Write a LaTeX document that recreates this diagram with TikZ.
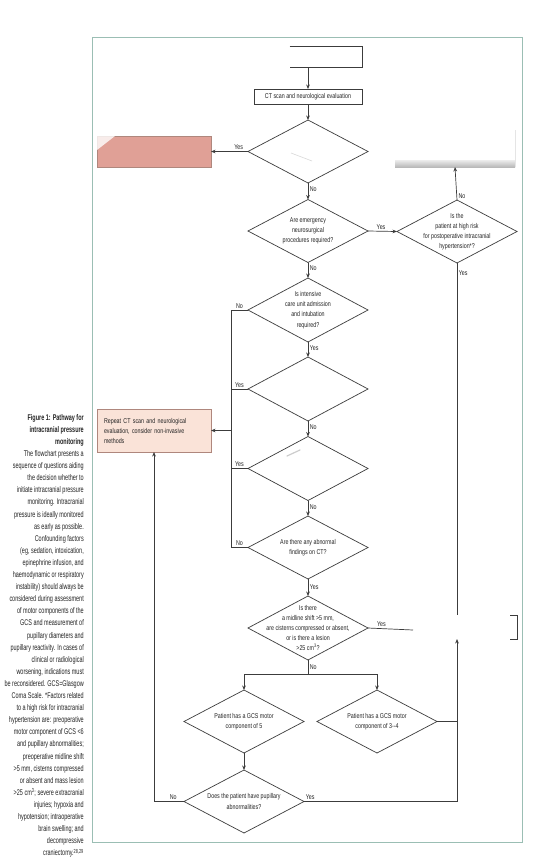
\documentclass[tikz,border=0pt]{standalone}
\usepackage{fontspec}
\setmainfont{Liberation Sans}
\newfontfamily\diaf[FakeStretch=0.76]{Liberation Sans}
\newfontfamily\capf[FakeStretch=0.66]{Liberation Sans}
\usetikzlibrary{shapes.geometric,arrows.meta,calc}
\definecolor{ln}{RGB}{60,60,60}
\definecolor{framec}{RGB}{155,190,180}
\definecolor{txt}{RGB}{35,35,35}
\definecolor{pinkA}{RGB}{224,160,150}
\definecolor{pinkB}{RGB}{250,227,216}
\definecolor{pinkE}{RGB}{175,135,125}
\begin{document}
\begin{tikzpicture}[x=1pt,y=-1pt,
  line/.style={draw=ln,line width=0.7pt},
  arr/.style={line,-{Stealth[length=4.5pt,width=3.6pt]}},
  dia/.style={diamond,draw=ln,line width=0.7pt,inner sep=0pt,outer sep=0pt,minimum width=120pt,minimum height=63pt},
  dtext/.style={font=\diaf\fontsize{7}{10.2}\selectfont,text=txt,align=center,inner sep=0pt},
  box/.style={draw=ln,line width=0.7pt,inner sep=0pt,outer sep=0pt},
  lab/.style={font=\diaf\fontsize{7}{8}\selectfont,text=txt,inner sep=1.5pt},
]
\useasboundingbox (0,0) rectangle (536,863);
\fill[white] (0,0) rectangle (536,863);

% frame
\draw[framec,line width=1pt] (92,37) rectangle (522,842);

% caption
\node[font=\capf\fontsize{8.3}{12.1}\selectfont,text=txt,align=right,inner sep=0pt,anchor=north east] (cap) at (84,414) {%
{\bfseries Figure 1: Pathway for}\\
{\bfseries intracranial pressure}\\
{\bfseries monitoring}\\
The flowchart presents a\\
sequence of questions aiding\\
the decision whether to\\
initiate intracranial pressure\\
monitoring. Intracranial\\
pressure is ideally monitored\\
as early as possible.\\
Confounding factors\\
(eg, sedation, intoxication,\\
epinephrine infusion, and\\
haemodynamic or respiratory\\
instability) should always be\\
considered during assessment\\
of motor components of the\\
GCS and measurement of\\
pupillary diameters and\\
pupillary reactivity. In cases of\\
clinical or radiological\\
worsening, indications must\\
be reconsidered. GCS=Glasgow\\
Coma Scale. *Factors related\\
to a high risk for intracranial\\
hypertension are: preoperative\\
motor component of GCS <6\\
and pupillary abnormalities;\\
preoperative midline shift\\
>5 mm, cisterns compressed\\
or absent and mass lesion\\
>25 cm\textsuperscript{3}; severe extracranial\\
injuries; hypoxia and\\
hypotension; intraoperative\\
brain swelling; and\\
decompressive\\
craniectomy.\textsuperscript{28,29}};

% top (partly erased) box
\node[box,draw=none,minimum width=108pt,minimum height=21pt] (top) at (308,56.5) {};
\draw[line] ($(top.north west)!0.33!(top.north east)$) -- (top.north east) -- (top.south east) -- ($(top.south west)!0.33!(top.south east)$);

\node[box,minimum width=108pt,minimum height=15pt,font=\diaf\fontsize{7}{8}\selectfont,text=txt] (ct) at (308,96.5) {CT scan and neurological evaluation};

% diamonds
\node[dia] (d1) at (308,151.5) {};
\draw[gray!30,line width=0.6pt] (291,153) -- (312,161);
\node[dia,label={[dtext]center:{Are emergency\\neurosurgical\\procedures required?}}] (d2) at (308,231) {};
\node[dia,label={[dtext]center:{Is the\\patient at high risk\\for postoperative intracranial\\hypertension*?}}] (dR) at (457,231.5) {};
\node[dia,minimum height=64pt,label={[dtext]center:{Is intensive\\care unit admission\\and intubation\\required?}}] (d3) at (308,310) {};
\node[dia,minimum height=64pt] (d4) at (308,389) {};
\node[dia,minimum height=64pt] (d5) at (308,468.5) {};
\draw[gray!40,line width=1.2pt,line cap=round] (287,456) -- (300,450);
\node[dia,label={[dtext]center:{Are there any abnormal\\findings on CT?}}] (d6) at (308,547.5) {};
\node[dia,minimum height=64pt,label={[dtext]center:{Is there\\a midline shift >5 mm,\\are cisterns compressed or absent,\\or is there a lesion\\>25 cm\textsuperscript{3}?}}] (dm) at (308,628) {};
\node[dia,label={[dtext]center:{Patient has a GCS motor\\component of 5}}] (g5) at (244,721.5) {};
\node[dia,label={[dtext]center:{Patient has a GCS motor\\component of 3--4}}] (g34) at (377,721.5) {};
\node[dia,label={[dtext]center:{Does the patient have pupillary\\abnormalities?}}] (dp) at (244,801.5) {};

% redacted boxes
\node[draw=pinkE,fill=pinkA,line width=0.6pt,minimum width=114pt,minimum height=31pt,inner sep=0pt,outer sep=0pt] (redL) at (154,151.5) {};
\fill[white,opacity=0.8] (redL.north west) -- ++(18,0) -- ++(-18,14) -- cycle;
\node[inner sep=0pt,outer sep=0pt,minimum width=120pt,minimum height=37pt] (redR) at (455,148.5) {};
\shade[top color=gray!15,bottom color=gray!55] ($(redR.south west)+(0,-7)$) rectangle (redR.south east);
\draw[gray!20,line width=0.5pt] (redR.north east) -- (redR.south east);
\node[inner sep=0pt,outer sep=0pt,minimum width=120pt,minimum height=24pt] (icp) at (457,627) {};
\draw[line,line width=0.6pt] ($(icp.north east)+(-7,0)$) -- (icp.north east) -- (icp.south east) -- ($(icp.south east)+(-7,0)$);

\node[draw=pinkE,fill=pinkB,line width=0.6pt,minimum width=114pt,minimum height=43pt,inner sep=0pt,outer sep=0pt,
      font=\diaf\fontsize{7}{10}\selectfont,text=txt,text width=100pt,align=left] (rep) at (154,430.5)
      {Repeat CT scan and neurological\\evaluation, consider non-invasive\\methods};

% connectors
\draw[arr] (top.south) -- (ct.north);
\draw[arr] (ct.south) -- (d1.north);
\draw[arr] (d1.west) -- node[lab,above,pos=0.25]{Yes} (redL.east);
\draw[arr] (d1.south) -- node[lab,right,pos=0.4]{No} (d2.north);
\draw[arr] (d2.east) -- node[lab,above,pos=0.45]{Yes} (dR.west);
\draw[arr] (dR.north) -- node[lab,right,pos=0.12]{No} (redR.south);
\draw[line] (dR.south) -- node[lab,right,pos=0.03]{Yes} (icp.north);
\draw[arr] (d2.south) -- node[lab,right,pos=0.35]{No} (d3.north);
\draw[line] (d3.west) -- node[lab,above,pos=0.5]{No} ++(-17,0) coordinate (L1) -- (L1 |- d6.west) -- (d6.west);
\draw[line] (d4.west) -- node[lab,above,pos=0.5]{Yes} (L1 |- d4.west);
\draw[line] (d5.west) -- node[lab,above,pos=0.5]{Yes} (L1 |- d5.west);
\path (d6.west) -- node[lab,above,pos=0.5]{No} (L1 |- d6.west);
\draw[arr] (L1 |- rep.east) -- (rep.east);
\draw[arr] (d3.south) -- node[lab,right,pos=0.4]{Yes} (d4.north);
\draw[arr] (d4.south) -- node[lab,right,pos=0.4]{No} (d5.north);
\draw[arr] (d5.south) -- node[lab,right,pos=0.4]{No} (d6.north);
\draw[arr] (d6.south) -- node[lab,right,pos=0.5]{Yes} (dm.north);
\coordinate (yesend) at (413,630);
\draw[line] (dm.east) -- node[lab,above,pos=0.3]{Yes} (yesend);
\draw[line] (dm.south) -- node[lab,right,pos=0.5]{No} (dm.south |- 0,674) coordinate (B);
\draw[arr] (B) -| (g5.north);
\draw[arr] (B) -| (g34.north);
\draw[arr] (g5.south) -- (dp.north);
\draw[line] (g34.east) -- (icp.south |- g34.east);
\draw[arr] (dp.west) -| node[lab,above,pos=0.18]{No} (rep.south);
\draw[arr] (dp.east) -| node[lab,above right,pos=0]{Yes} (icp.south);
\end{tikzpicture}
\end{document}
